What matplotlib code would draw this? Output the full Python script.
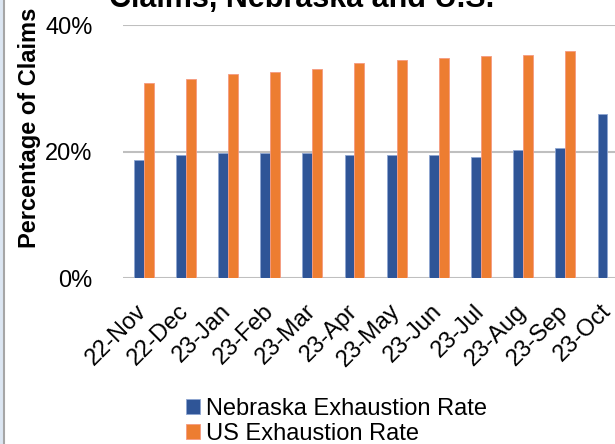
import numpy as np
import matplotlib.pyplot as plt
import matplotlib.transforms as mtransforms
from matplotlib.patches import Rectangle
from matplotlib.lines import Line2D
from matplotlib.ticker import PercentFormatter

plt.rcParams['font.family'] = ['Liberation Sans', 'DejaVu Sans']

# dados (US de 23-Oct nao aparece)
meses = ["22-Nov", "22-Dec", "23-Jan", "23-Feb", "23-Mar", "23-Apr",
         "23-May", "23-Jun", "23-Jul", "23-Aug", "23-Sep", "23-Oct"]
nebraska = [18.6, 19.4, 19.8, 19.8, 19.8, 19.5, 19.4, 19.4, 19.1, 20.2, 20.6, 26.0]
us = [30.8, 31.4, 32.2, 32.5, 33.0, 34.0, 34.4, 34.8, 35.1, 35.2, 35.9, np.nan]

azul = "#2F5597"
laranja = "#ED7D31"

fig = plt.figure(figsize=(6.15, 4.44), dpi=100)
# eixo passa da borda direita (o original esta cortado)
ax = fig.add_axes([123/615, 1 - 278/444, 506/615, 253/444])

x = np.arange(len(meses))
w = 0.235
ax.bar(x - w/2, nebraska, w, color=azul, edgecolor="#8EA6D2", linewidth=0.6,
       label="Nebraska Exhaustion Rate", zorder=3)
ax.bar(x + w/2, us, w, color=laranja, edgecolor="#F59A80", linewidth=0.6,
       label="US Exhaustion Rate", zorder=3)

ax.set_xlim(-0.49, 11.51)
ax.set_ylim(0, 40)
ax.set_yticks([0, 20, 40])
ax.yaxis.set_major_formatter(PercentFormatter(decimals=0))
ax.grid(axis='y', color="#BFBFBF", linewidth=1.5, zorder=0)
for s in ["top", "right", "left", "bottom"]:
    ax.spines[s].set_visible(False)
ax.tick_params(axis='both', length=0, labelsize=17)
ax.tick_params(axis='y', pad=22)
ax.set_xticks(x)
ax.set_xticklabels(meses, rotation=45, ha='right', rotation_mode='anchor')
ax.tick_params(axis='x', pad=16)
desloc = mtransforms.ScaledTranslation(-8/100, 0, fig.dpi_scale_trans)
for lab in ax.get_xticklabels():
    lab.set_transform(lab.get_transform() + desloc)

fig.text(30/615, 1 - 128/444, "Percentage of Claims", rotation=90, fontsize=17,
         fontweight='bold', ha='center', va='center')
fig.text(302/615, 1 - 7/444, "Claims, Nebraska and U.S.", fontsize=22,
         fontweight='bold', ha='center', va='baseline')

fig.legend(loc='upper left', bbox_to_anchor=(186/615, 1 - 398/444), frameon=False,
           fontsize=17, handlelength=0.6, handleheight=0.6, handletextpad=0.25,
           labelspacing=0.12, borderpad=0, borderaxespad=0)

# borda esquerda
fig.patches.append(Rectangle((0, 0), 3/615, 1, transform=fig.transFigure,
                             color="#DCE6F2", zorder=0))
fig.lines.append(Line2D([4/615, 4/615], [0, 1], transform=fig.transFigure,
                        color="#A6A6A6", linewidth=1.5))

fig.savefig("out.png", dpi=100)
